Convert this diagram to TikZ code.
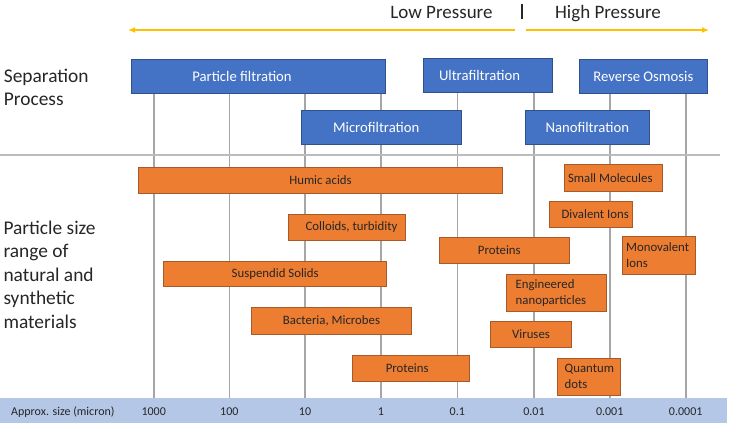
\documentclass[tikz,border=0pt]{standalone}
\usepackage{fontspec}
\setmainfont{Carlito}
\usepackage{xcolor}
\usetikzlibrary{arrows.meta}
\definecolor{procblue}{HTML}{4472C4}
\definecolor{procedge}{HTML}{2F528F}
\definecolor{partorange}{HTML}{ED7D31}
\definecolor{partedge}{HTML}{A65A2A}
\definecolor{pressyellow}{HTML}{FFC000}
\definecolor{bandblue}{HTML}{B4C7E7}
\definecolor{gridgray}{HTML}{A6A6A6}
\definecolor{inkgray}{HTML}{262626}

\begin{document}
\begin{tikzpicture}[x=1pt,y=-1pt,>={Latex[length=7pt,width=6pt]},
  proc/.style={draw=procedge,line width=0.8pt,fill=procblue,text=white,
    font=\fontsize{14.7}{17}\selectfont,inner sep=0pt},
  part/.style={draw=partedge,line width=0.8pt,fill=partorange,text=inkgray,
    font=\fontsize{12.8}{16}\selectfont,inner sep=0pt},
  partleft/.style={part,align=left,inner xsep=#1,anchor=north west},
  side/.style={text=inkgray,font=\fontsize{19.4}{23.5}\selectfont,align=left,anchor=west,inner sep=0pt},
  sizelbl/.style={text=inkgray,font=\fontsize{12}{14}\selectfont,anchor=base,inner sep=0pt}]
  \useasboundingbox (0,0) rectangle (729,423);
  % scale band and grid
  \fill[bandblue] (0,397.5) rectangle (727,423);
  \foreach \x/\s [count=\i] in {153.7/1000,229.3/100,305/10,381/1,457.3/0.1,534/0.01,609.7/0.001,685.7/0.0001}{
    \draw[gridgray,line width=1.6pt] (\x,93) -- (\x,397.5);
    \node[sizelbl] (size\i) at (\x,415) {\s};
  }
  \node[sizelbl,anchor=base west] (approx) at (11,415) {Approx. size (micron)};
  \draw[gridgray!75,line width=2pt] (0,155) -- (720,155);
  % pressure arrows
  \coordinate (lowstart) at (515,30);
  \coordinate (lowend) at (128,30);
  \coordinate (highstart) at (525.6,30);
  \coordinate (highend) at (709,30);
  \draw[pressyellow,line width=1.8pt,->] (lowstart) -- (lowend);
  \draw[pressyellow,line width=1.8pt,->] (highstart) -- (highend);
  \draw[inkgray,line width=1.2pt] (522,3.5) -- (522,18.5);
  \node[text=inkgray,font=\fontsize{19}{23}\selectfont,anchor=base] (low) at (441.5,18.3) {Low Pressure};
  \node[text=inkgray,font=\fontsize{19}{23}\selectfont,anchor=base] (high) at (608,18.3) {High Pressure};
  % separation processes
  \node[side] (septitle) at (3.7,87.5) {Separation\\Process};
  \node[proc,minimum width=254pt,minimum height=34pt] (pf) at (258,76) {Particle filtration\hspace*{32pt}};
  \node[proc,minimum width=129pt,minimum height=34.5pt] (uf) at (487.5,75.3) {Ultrafiltration\hspace*{16pt}};
  \node[proc,minimum width=128pt,minimum height=34pt] (ro) at (643.3,76) {Reverse Osmosis};
  \node[proc,minimum width=160pt,minimum height=34pt] (mf) at (381.7,127) {Microfiltration\hspace*{11pt}};
  \node[proc,minimum width=123.4pt,minimum height=34pt] (nf) at (587.3,127) {Nanofiltration};
  % particle size ranges
  \node[side] (parttitle) at (3.3,274.5) {Particle size\\range of\\natural and\\synthetic\\materials};
  \node[part,minimum width=364.4pt,minimum height=26pt] (humic) at (320.5,180.3) {Humic acids};
  \node[part,minimum width=117pt,minimum height=26pt] (colloid) at (346.5,227) {\hspace*{10pt}Colloids, turbidity};
  \node[part,minimum width=223pt,minimum height=25.7pt] (solids) at (275.2,273.8) {Suspendid Solids};
  \node[part,minimum width=160.4pt,minimum height=26.6pt] (bact) at (331.5,321) {Bacteria, Microbes};
  \node[part,minimum width=116.7pt,minimum height=26pt] (protlow) at (410.7,368) {Proteins\hspace*{7pt}};
  \node[part,minimum width=98pt,minimum height=27pt] (smallmol) at (613.3,178.2) {Small Molecules\hspace*{6pt}};
  \node[part,minimum width=83pt,minimum height=26pt] (dival) at (591.2,214) {\hspace*{8pt}Divalent Ions};
  \node[part,minimum width=130.7pt,minimum height=26pt] (protmid) at (504.3,250.3) {Proteins\hspace*{10pt}};
  \node[partleft=4pt,text width=65pt,minimum height=38pt] (monoval) at (621.7,235.7) {Monovalent\\Ions};
  \node[partleft=9pt,text width=82pt,minimum height=37pt] (nano) at (506.3,274) {Engineered\\nanoparticles};
  \node[part,minimum width=81.4pt,minimum height=26pt] (virus) at (531,334.3) {Viruses};
  \node[partleft=7pt,text width=48.4pt,minimum height=37.3pt] (qdots) at (557.3,357.7) {Quantum\\dots};
\end{tikzpicture}
\end{document}
